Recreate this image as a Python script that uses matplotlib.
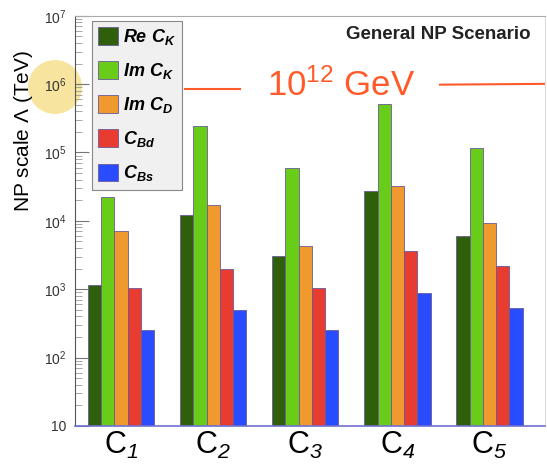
import matplotlib
matplotlib.use('Agg')
import matplotlib.pyplot as plt
import numpy as np
from matplotlib.patches import Circle

plt.rcParams['font.family'] = ['Liberation Sans', 'DejaVu Sans']
plt.rcParams['mathtext.fontset'] = 'custom'
plt.rcParams['mathtext.rm'] = 'Liberation Sans'
plt.rcParams['mathtext.it'] = 'Liberation Sans:italic'
plt.rcParams['mathtext.sf'] = 'Liberation Sans:italic'
plt.rcParams['mathtext.bf'] = 'Liberation Sans:bold:italic'

# --- data (TeV) ---
operators = [r'C$_\mathsf{1}$', r'C$_\mathsf{2}$', r'C$_\mathsf{3}$', r'C$_\mathsf{4}$', r'C$_\mathsf{5}$']
re_ck = [1150, 12300, 3100, 27000, 6000]
im_ck = [22000, 240000, 60000, 510000, 118000]
im_cd = [7100, 17000, 4300, 32000, 9300]
c_bd = [1050, 1950, 1030, 3600, 2200]
c_bs = [250, 490, 255, 870, 525]

series = [re_ck, im_ck, im_cd, c_bd, c_bs]
labels = [r'Re C$_\mathbf{K}$', r'Im C$_\mathbf{K}$', r'Im C$_\mathbf{D}$',
          r'C$_\mathbf{Bd}$', r'C$_\mathbf{Bs}$']
colors = ['#2f5f0b', '#68cc18', '#f0992f', '#e83c30', '#2a4cff']

ytick_vals = [10, 1e2, 1e3, 1e4, 1e5, 1e6, 1e7]
ytick_labels = ['10', r'$10^{2}$', r'$10^{3}$', r'$10^{4}$', r'$10^{5}$', r'$10^{6}$', r'$10^{7}$']

fig = plt.figure(figsize=(5.47, 4.73), dpi=100)
ax = fig.add_axes([0.137, 0.0994, 0.859, 0.8673])
ax.patch.set_facecolor('none')

x = np.arange(len(operators))
w = 0.144
for i, (vals, lab, col) in enumerate(zip(series, labels, colors)):
    ax.bar(x + (i - 2) * w, vals, width=w, color=col, edgecolor='#6a5a9a',
           linewidth=0.6, label=lab, zorder=2)

ax.set_yscale('log')
ax.set_ylim(10, 1e7)
ax.set_xlim(-0.5, 4.6)
ax.set_yticks(ytick_vals)
ax.set_yticklabels(ytick_labels, fontsize=10, color='#333333')
ax.set_xticks(x)
ax.set_xticklabels(operators, fontsize=22)
ax.tick_params(axis='x', length=0, pad=3)
ax.tick_params(axis='y', which='major', direction='in', length=10, width=0.8, color='#777777', pad=6)
ax.tick_params(axis='y', which='minor', direction='in', length=5, width=0.6, color='#999999')

ax.spines['left'].set_color('#555555')
ax.spines['top'].set_color('#aaaaaa')
ax.spines['right'].set_color('#dddddd')
ax.spines['bottom'].set_color('#7070d0')
ax.spines['bottom'].set_linewidth(1.2)

ax.set_ylabel(r'NP scale $\Lambda$ (TeV)', fontsize=15)
ax.yaxis.set_label_coords(-0.085, 0.72)

ax.text(0.97, 0.955, 'General NP Scenario', transform=ax.transAxes,
        ha='right', va='center', fontsize=13.5, fontweight='bold', color='#222222')

leg = ax.legend(loc='upper left', bbox_to_anchor=(0.036, 0.988), frameon=True,
                fancybox=False, facecolor='#f0f0f0', edgecolor='#888888', framealpha=1,
                prop={'size': 13, 'weight': 'bold', 'style': 'italic'},
                handlelength=1.1, handleheight=1.1, handletextpad=0.25,
                labelspacing=0.78, borderpad=0.35, borderaxespad=0)
leg.get_frame().set_linewidth(0.8)

# hand-drawn overlay on the original picture
ax.plot([0.234, 0.351], [0.822, 0.822], transform=ax.transAxes, color='#ff5a2a', lw=1.5, clip_on=False)
ax.plot([0.777, 1.0], [0.832, 0.834], transform=ax.transAxes, color='#ff5a2a', lw=1.5, clip_on=False)
ax.text(0.566, 0.83, r'$10^{12}$ GeV', transform=ax.transAxes, ha='center', va='center',
        fontsize=25, color='#ff5a2a')
fig.add_artist(Circle((0.55, (473 - 87) / 100), 0.27, transform=fig.dpi_scale_trans,
                      facecolor='#f3d66a', alpha=0.65, edgecolor='none', zorder=-1))

fig.savefig('out.png', dpi=100)
